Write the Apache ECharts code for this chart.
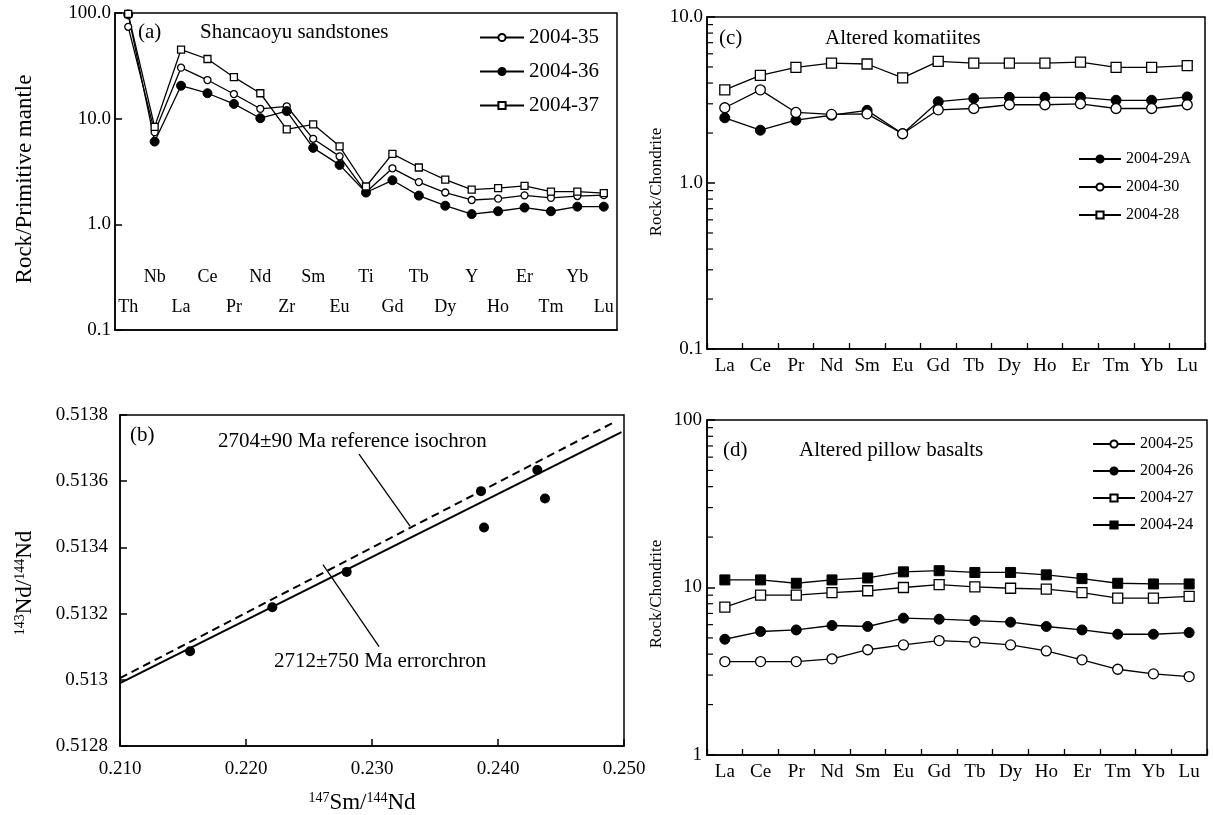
<!DOCTYPE html>
<html>
<head>
<meta charset="utf-8">
<script src="https://cdn.jsdelivr.net/npm/echarts@6/dist/echarts.min.js"></script>
<style>
html,body{margin:0;padding:0;background:#fff;}
#chart{width:1213px;height:815px;}
</style>
</head>
<body>
<div id="chart"></div>
<script>
// ---------- Panel (a): spidergram, Shancaoyu sandstones ----------
const catsA = ['Th','Nb','La','Ce','Pr','Nd','Zr','Sm','Eu','Ti','Gd','Tb','Dy','Y','Ho','Er','Tm','Yb','Lu'];
const a35 = [74, 7.45, 30.4, 23.2, 17.1, 12.4, 13.1, 6.45, 4.4, 2.01, 3.39, 2.51, 2.0, 1.70, 1.75, 1.88, 1.78, 1.85, 1.89];
const a36 = [97, 6.07, 20.5, 17.4, 13.8, 10.1, 11.8, 5.29, 3.65, 2.0, 2.61, 1.87, 1.50, 1.25, 1.33, 1.44, 1.33, 1.47, 1.47];
const a37 = [98, 8.36, 45.1, 36.7, 24.7, 17.4, 7.93, 8.84, 5.47, 2.28, 4.64, 3.45, 2.65, 2.13, 2.20, 2.31, 2.04, 2.04, 1.97];

// ---------- Panel (b): Sm-Nd isochron ----------
const bSm = [0.21556, 0.22209, 0.22799, 0.23865, 0.23889, 0.24312, 0.24373];
const bNd = [0.513086, 0.513219, 0.513326, 0.51357, 0.51346, 0.513634, 0.513548];
const errorchron = [[0.210, 0.51299], [0.2498, 0.513748]];
const isochron = [[0.210, 0.513005], [0.2492, 0.513778]];
const leaderIso = [[0.22897, 0.513682], [0.23302, 0.513464]];
const leaderErr = [[0.22611, 0.513348], [0.23056, 0.51310]];

// ---------- Panel (c): altered komatiites ----------
const catsREE = ['La','Ce','Pr','Nd','Sm','Eu','Gd','Tb','Dy','Ho','Er','Tm','Yb','Lu'];
const c29A = [2.47, 2.08, 2.39, 2.56, 2.74, 1.98, 3.09, 3.23, 3.28, 3.28, 3.28, 3.15, 3.15, 3.30];
const c30  = [2.84, 3.64, 2.66, 2.59, 2.61, 1.98, 2.76, 2.81, 2.96, 2.96, 3.00, 2.81, 2.81, 2.96];
const c28  = [3.64, 4.45, 4.97, 5.28, 5.21, 4.30, 5.40, 5.28, 5.28, 5.28, 5.35, 4.97, 4.97, 5.09];

// ---------- Panel (d): altered pillow basalts ----------
const d25 = [3.61, 3.61, 3.61, 3.75, 4.25, 4.54, 4.82, 4.72, 4.54, 4.18, 3.70, 3.25, 3.05, 2.94];
const d26 = [4.91, 5.46, 5.58, 5.93, 5.85, 6.56, 6.47, 6.35, 6.21, 5.85, 5.58, 5.26, 5.26, 5.38];
const d27 = [7.63, 9.00, 9.00, 9.33, 9.56, 10.0, 10.4, 10.1, 9.90, 9.78, 9.33, 8.64, 8.64, 8.84];
const d24 = [11.1, 11.1, 10.6, 11.1, 11.4, 12.4, 12.6, 12.3, 12.3, 11.9, 11.3, 10.6, 10.5, 10.5];

// minor tick values for log axes (c) and (d)
const minorTicksC = [0.2,0.3,0.4,0.5,0.6,0.7,0.8,0.9,2,3,4,5,6,7,8,9];
const minorTicksD = [2,3,4,5,6,7,8,9,20,30,40,50,60,70,80,90];

const FONT = 'Liberation Serif';
const BLACK = '#000';

function sym(kind) {
  if (kind === 'oc') return {symbol:'circle', itemStyle:{color:'#fff', borderColor:BLACK, borderWidth:1.3, opacity:1}};
  if (kind === 'fc') return {symbol:'circle', itemStyle:{color:BLACK, borderColor:BLACK, borderWidth:1, opacity:1}};
  if (kind === 'os') return {symbol:'rect', itemStyle:{color:'#fff', borderColor:BLACK, borderWidth:1.3, opacity:1}};
  return {symbol:'rect', itemStyle:{color:BLACK, borderColor:BLACK, borderWidth:1, opacity:1}};
}
function lineSeries(name, data, kind, axis, size) {
  const s = sym(kind);
  return Object.assign({
    type:'line', name, data, xAxisIndex:axis, yAxisIndex:axis,
    symbolSize:size, showAllSymbol:true, lineStyle:{color:BLACK, width:1.3},
    emphasis:{disabled:true}, animation:false
  }, s);
}
function minorTick(params, api) {
  const p = api.coord([0, api.value(1)]);
  const x0 = params.coordSys.x;
  return {type:'line', shape:{x1:x0, y1:p[1], x2:x0+6, y2:p[1]}, style:{stroke:BLACK, lineWidth:1.2}};
}
function minorSeries(vals, axis) {
  return {type:'custom', xAxisIndex:axis, yAxisIndex:axis, renderItem:minorTick,
    data: vals.map(v => [0, v]), encode:{x:0, y:1}, silent:true, animation:false, clip:false};
}

const gridStyle = {show:true, borderColor:BLACK, borderWidth:1.5, backgroundColor:'transparent'};
const axisLine = {show:true, lineStyle:{color:BLACK, width:1.5}};

const option = {
  backgroundColor:'#fff',
  animation:false,
  textStyle:{fontFamily:FONT, color:BLACK},
  grid:[
    Object.assign({left:115, top:13, width:502, height:317}, gridStyle),
    Object.assign({left:120, top:415, width:504, height:331}, gridStyle),
    Object.assign({left:707, top:17, width:498, height:332}, gridStyle),
    Object.assign({left:707, top:420, width:500, height:335}, gridStyle)
  ],
  xAxis:[
    {type:'category', gridIndex:0, data:catsA, boundaryGap:true, axisLine,
     axisTick:{show:false},
     axisLabel:{inside:true, margin:8, fontSize:18, color:BLACK, fontFamily:FONT, interval:0,
       formatter:(v, i) => (i % 2 === 1 ? v + '\n ' : v), lineHeight:30}},
    {type:'value', gridIndex:1, min:0.21, max:0.25, interval:0.01, axisLine,
     axisTick:{show:true, inside:true, length:7, lineStyle:{color:BLACK, width:1.5}},
     splitLine:{show:false},
     axisLabel:{margin:14, fontSize:19, color:BLACK, fontFamily:FONT, formatter:v => v.toFixed(3)}},
    {type:'category', gridIndex:2, data:catsREE, boundaryGap:true, axisLine,
     axisTick:{show:true, inside:true, length:6, lineStyle:{color:BLACK, width:1.3}},
     axisLabel:{margin:8, fontSize:19, color:BLACK, fontFamily:FONT, interval:0}},
    {type:'category', gridIndex:3, data:catsREE, boundaryGap:true, axisLine,
     axisTick:{show:true, inside:true, length:6, lineStyle:{color:BLACK, width:1.3}},
     axisLabel:{margin:8, fontSize:19, color:BLACK, fontFamily:FONT, interval:0}}
  ],
  yAxis:[
    {type:'log', gridIndex:0, logBase:10, min:0.1, max:100, axisLine,
     axisTick:{show:true, inside:true, length:7, lineStyle:{color:BLACK, width:1.5}},
     splitLine:{show:false},
     axisLabel:{margin:4, fontSize:19, color:BLACK, fontFamily:FONT, formatter:v => Number(v).toFixed(1)}},
    {type:'value', gridIndex:1, min:0.5128, max:0.5138, interval:0.0002, axisLine,
     axisTick:{show:true, inside:true, length:7, lineStyle:{color:BLACK, width:1.5}},
     splitLine:{show:false},
     axisLabel:{margin:12, fontSize:19, color:BLACK, fontFamily:FONT, formatter:v => String(parseFloat(Number(v).toFixed(4)))}},
    {type:'log', gridIndex:2, logBase:10, min:0.1, max:10, axisLine,
     axisTick:{show:true, inside:true, length:8, lineStyle:{color:BLACK, width:1.5}},
     splitLine:{show:false},
     axisLabel:{margin:4, fontSize:19, color:BLACK, fontFamily:FONT, formatter:v => Number(v).toFixed(1)}},
    {type:'log', gridIndex:3, logBase:10, min:1, max:100, axisLine,
     axisTick:{show:true, inside:true, length:8, lineStyle:{color:BLACK, width:1.5}},
     splitLine:{show:false},
     axisLabel:{margin:5, fontSize:19, color:BLACK, fontFamily:FONT, formatter:v => String(Math.round(v))}}
  ],
  legend:[
    {data:['2004-35','2004-36','2004-37'], orient:'vertical', left:474, top:22, itemWidth:44, itemHeight:9, itemGap:13,
     textStyle:{fontSize:21, fontFamily:FONT, color:BLACK}, selectedMode:false},
    {data:['2004-29A','2004-30','2004-28'], orient:'vertical', left:1073, top:146, itemWidth:42, itemHeight:9, itemGap:12,
     textStyle:{fontSize:16, fontFamily:FONT, color:BLACK}, selectedMode:false},
    {data:['2004-25','2004-26','2004-27','2004-24'], orient:'vertical', left:1087, top:431, itemWidth:42, itemHeight:9, itemGap:11,
     textStyle:{fontSize:16, fontFamily:FONT, color:BLACK}, selectedMode:false}
  ],
  graphic:[
    {type:'text', left:138, top:22, style:{text:'(a)', font:'21px "Liberation Serif"', fill:BLACK}},
    {type:'text', left:200, top:22, style:{text:'Shancaoyu sandstones', font:'21px "Liberation Serif"', fill:BLACK}},
    {type:'text', left:719, top:28, style:{text:'(c)', font:'21px "Liberation Serif"', fill:BLACK}},
    {type:'text', left:825, top:28, style:{text:'Altered komatiites', font:'21px "Liberation Serif"', fill:BLACK}},
    {type:'text', left:723, top:440, style:{text:'(d)', font:'21px "Liberation Serif"', fill:BLACK}},
    {type:'text', left:799, top:440, style:{text:'Altered pillow basalts', font:'21px "Liberation Serif"', fill:BLACK}},
    {type:'text', left:130, top:425, style:{text:'(b)', font:'21px "Liberation Serif"', fill:BLACK}},
    {type:'text', left:218, top:431, style:{text:'2704±90 Ma reference isochron', font:'21px "Liberation Serif"', fill:BLACK}},
    {type:'text', left:274, top:651, style:{text:'2712±750 Ma errorchron', font:'21px "Liberation Serif"', fill:BLACK}},
    // axis titles
    {type:'text', x:25, y:179, rotation:Math.PI/2,
     style:{text:'Rock/Primitive mantle', font:'23px "Liberation Serif"', fill:BLACK, align:'center', verticalAlign:'middle'}},
    {type:'text', x:657, y:182, rotation:Math.PI/2,
     style:{text:'Rock/Chondrite', font:'17px "Liberation Serif"', fill:BLACK, align:'center', verticalAlign:'middle'}},
    {type:'text', x:657, y:594, rotation:Math.PI/2,
     style:{text:'Rock/Chondrite', font:'17px "Liberation Serif"', fill:BLACK, align:'center', verticalAlign:'middle'}},
    {type:'text', x:25, y:583, rotation:Math.PI/2,
     style:{text:'{s|143}{n|Nd/}{s|144}{n|Nd}', align:'center', verticalAlign:'middle',
       rich:{s:{fontSize:14, fontFamily:FONT, fill:BLACK, verticalAlign:'top', lineHeight:24},
             n:{fontSize:23, fontFamily:FONT, fill:BLACK, lineHeight:24}}}},
    {type:'text', x:362, y:803,
     style:{text:'{s|147}{n|Sm/}{s|144}{n|Nd}', align:'center', verticalAlign:'middle',
       rich:{s:{fontSize:14, fontFamily:FONT, fill:BLACK, verticalAlign:'top', lineHeight:24},
             n:{fontSize:23, fontFamily:FONT, fill:BLACK, lineHeight:24}}}}
  ],
  series:[
    lineSeries('2004-35', a35, 'oc', 0, 7),
    lineSeries('2004-36', a36, 'fc', 0, 9),
    lineSeries('2004-37', a37, 'os', 0, 7),

    {type:'line', name:'isochron', xAxisIndex:1, yAxisIndex:1, data:isochron, symbol:'none',
     lineStyle:{color:BLACK, width:2, type:[8,5]}, animation:false, silent:true},
    {type:'line', name:'errorchron', xAxisIndex:1, yAxisIndex:1, data:errorchron, symbol:'none',
     lineStyle:{color:BLACK, width:2}, animation:false, silent:true},
    {type:'line', name:'leaderIso', xAxisIndex:1, yAxisIndex:1, data:leaderIso, symbol:'none',
     lineStyle:{color:BLACK, width:1.3}, animation:false, silent:true},
    {type:'line', name:'leaderErr', xAxisIndex:1, yAxisIndex:1, data:leaderErr, symbol:'none',
     lineStyle:{color:BLACK, width:1.3}, animation:false, silent:true},
    {type:'scatter', name:'samples', xAxisIndex:1, yAxisIndex:1, data:bSm.map((x, i) => [x, bNd[i]]),
     symbol:'circle', symbolSize:10, itemStyle:{color:BLACK, opacity:1}, animation:false, silent:true},

    lineSeries('2004-29A', c29A, 'fc', 2, 10),
    lineSeries('2004-30', c30, 'oc', 2, 10),
    lineSeries('2004-28', c28, 'os', 2, 10),
    minorSeries(minorTicksC, 2),

    lineSeries('2004-25', d25, 'oc', 3, 10),
    lineSeries('2004-26', d26, 'fc', 3, 10),
    lineSeries('2004-27', d27, 'os', 3, 10),
    lineSeries('2004-24', d24, 'fs', 3, 10),
    minorSeries(minorTicksD, 3)
  ]
};

const chart = echarts.init(document.getElementById('chart'), null, {renderer:'canvas'});
chart.setOption(option);
</script>
</body>
</html>
